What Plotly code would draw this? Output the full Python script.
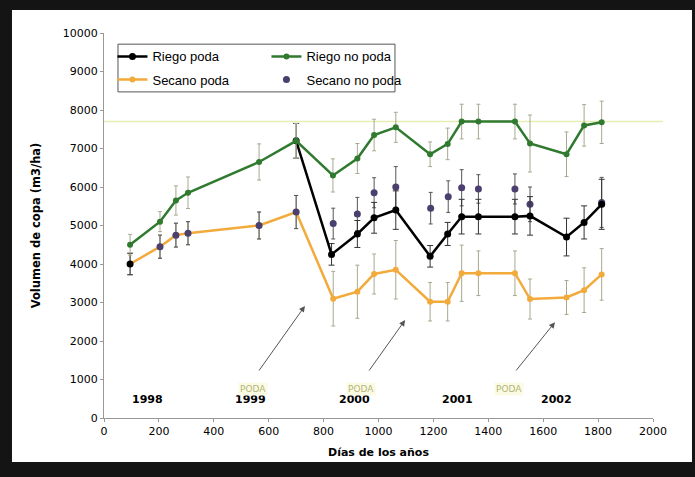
import plotly.graph_objects as go

# Riego poda (pruned, irrigated) - first point isolated, line resumes at pruning
rp_days = [95, 400, 700, 829, 923, 984, 1063, 1188, 1252, 1303, 1364, 1497, 1552, 1685, 1749, 1813]
rp_vol = [4000, None, 7200, 4250, 4780, 5200, 5400, 4200, 4780, 5230, 5230, 5230, 5250, 4700, 5080, 5550]
rp_err = [280, 0, 450, 280, 350, 400, 500, 280, 300, 450, 450, 450, 500, 490, 430, 650]

# Riego no poda (unpruned, irrigated)
rn_days = [95, 204, 262, 306, 565, 700, 834, 923, 984, 1063, 1188, 1252, 1303, 1364, 1497, 1552, 1685, 1749, 1813]
rn_vol = [4500, 5100, 5650, 5850, 6650, 7200, 6300, 6740, 7350, 7550, 6850, 7120, 7700, 7700, 7700, 7130, 6850, 7600, 7680]
rn_err = [270, 260, 380, 410, 470, 450, 430, 390, 410, 390, 320, 410, 450, 450, 450, 740, 580, 540, 550]

# Secano poda (pruned, rainfed)
sp_days = [95, 204, 262, 306, 565, 700, 835, 923, 984, 1063, 1188, 1252, 1303, 1364, 1497, 1552, 1685, 1749, 1813]
sp_vol = [4000, 4450, 4750, 4800, 5000, 5350, 3100, 3280, 3740, 3850, 3020, 3020, 3760, 3760, 3760, 3090, 3130, 3320, 3730]
sp_err = [280, 300, 310, 300, 350, 430, 710, 690, 520, 760, 500, 500, 730, 580, 580, 520, 440, 580, 670]

# Secano no poda (unpruned, rainfed)
sn_days = [204, 262, 306, 565, 700, 835, 923, 984, 1063, 1190, 1254, 1303, 1364, 1497, 1552, 1813]
sn_vol = [4450, 4750, 4800, 5000, 5350, 5050, 5300, 5850, 6000, 5450, 5750, 5980, 5950, 5950, 5550, 5600]
sn_err = [300, 310, 300, 350, 430, 400, 430, 390, 530, 410, 410, 470, 370, 390, 450, 650]

# Reference level
ref_level = 7700

# Year labels along the bottom
year_labels = ["1998", "1999", "2000", "2001", "2002"]
year_days = [160, 532, 914, 1286, 1647]
year_level = 490

# Pruning annotations: text position, arrow tail, arrow head
poda_text_days = [543, 936, 1475]
poda_text_level = 750
poda_tail_days = [561, 962, 1497]
poda_tail_level = 1195
poda_head_days = [732, 1097, 1643]
poda_head_vol = [2910, 2545, 2490]

ERR_COL = "#a8a890"
GREEN = "#2f7a2f"
ORANGE = "#f2aa3a"
PURPLE = "#4a3f6e"

fig = go.Figure()

fig.add_trace(go.Scatter(
    x=sp_days, y=sp_vol, name="Secano poda", mode="lines+markers",
    line=dict(color=ORANGE, width=2.5),
    marker=dict(color=ORANGE, size=6),
    error_y=dict(type="data", array=sp_err, color=ERR_COL, thickness=1, width=2),
    legend="legend2",
))

fig.add_trace(go.Scatter(
    x=sn_days, y=sn_vol, name="Secano no poda", mode="markers",
    marker=dict(color=PURPLE, size=7),
    error_y=dict(type="data", array=sn_err, color="#555555", thickness=1, width=2),
    legend="legend2",
))

fig.add_trace(go.Scatter(
    x=rp_days, y=rp_vol, name="Riego poda", mode="lines+markers",
    connectgaps=False,
    line=dict(color="black", width=2.5),
    marker=dict(color="black", size=7),
    error_y=dict(type="data", array=rp_err, color="#333333", thickness=1, width=3),
    legend="legend",
))

fig.add_trace(go.Scatter(
    x=rn_days, y=rn_vol, name="Riego no poda", mode="lines+markers",
    line=dict(color=GREEN, width=2.5),
    marker=dict(color=GREEN, size=6),
    error_y=dict(type="data", array=rn_err, color=ERR_COL, thickness=1, width=2),
    legend="legend",
))

shapes = [
    # white page inside the dark frame
    dict(type="rect", xref="paper", yref="paper", x0=-0.1676, x1=1.071, y0=-0.1143, y1=1.0597,
         fillcolor="white", line=dict(width=0), layer="below"),
    # reference level line
    dict(type="line", xref="paper", yref="y", x0=0, x1=1.018, y0=ref_level, y1=ref_level,
         line=dict(color="#e6eeb4", width=1.5), layer="below"),
    # legend box
    dict(type="rect", xref="paper", yref="paper", x0=0.0255, x1=0.530, y0=0.847, y1=0.971,
         fillcolor="white", line=dict(color="#555555", width=1), layer="below"),
]

annotations = []
for lab, d in zip(year_labels, year_days):
    annotations.append(dict(x=d, y=year_level, xref="x", yref="y", text=lab, showarrow=False,
                            font=dict(family="DejaVu Sans", size=11, color="black", weight="bold")))
for td, hd, tl, hv in zip(poda_text_days, poda_head_days, poda_tail_days, poda_head_vol):
    annotations.append(dict(x=hd, y=hv, xref="x", yref="y", ax=tl, ay=poda_tail_level,
                            axref="x", ayref="y", text="", showarrow=True,
                            arrowhead=2, arrowsize=1.2, arrowwidth=1, arrowcolor="#555555"))
    annotations.append(dict(x=td, y=poda_text_level, xref="x", yref="y", text="PODA",
                            showarrow=False, bgcolor="#fbfbe4",
                            font=dict(family="DejaVu Sans", size=9, color="#b4b47a")))

legend_common = dict(xanchor="left", yanchor="top", orientation="h",
                     bgcolor="rgba(0,0,0,0)", borderwidth=0, entrywidth=109, entrywidthmode="pixels",
                     itemwidth=30, font=dict(family="Liberation Sans", size=13), traceorder="normal")

fig.update_layout(
    width=695, height=477,
    margin=dict(l=104, r=42, t=33, b=59),
    paper_bgcolor="#141414",
    plot_bgcolor="white",
    showlegend=True,
    shapes=shapes,
    annotations=annotations,
    font=dict(family="DejaVu Sans", color="black"),
    legend=dict(x=0.0154, y=0.978, **legend_common),
    legend2=dict(x=0.0154, y=0.918, **legend_common),
    xaxis=dict(range=[0, 2000], tickvals=list(range(0, 2001, 200)), showgrid=False, zeroline=False,
               showline=True, linecolor="#999999", linewidth=1, ticks="outside", ticklen=3,
               tickcolor="#999999", tickfont=dict(size=11),
               title=dict(text="Días de los años", font=dict(size=11, weight="bold"), standoff=11)),
    yaxis=dict(range=[0, 10000], tickvals=list(range(0, 10001, 1000)), tickformat="d",
               showgrid=False, zeroline=False,
               showline=True, linecolor="#999999", linewidth=1, ticks="outside", ticklen=3,
               tickcolor="#999999", tickfont=dict(size=11),
               title=dict(text="Volumen de copa (m3/ha)", font=dict(size=11.5, weight="bold"), standoff=19)),
)

fig.write_html("out.html")
